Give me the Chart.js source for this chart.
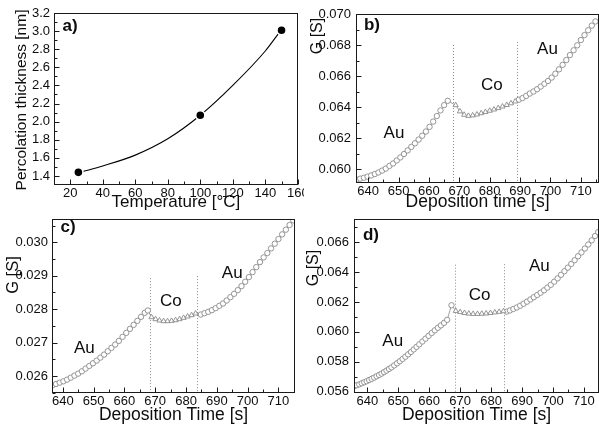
<!DOCTYPE html>
<html><head><meta charset="utf-8">
<script src="https://cdn.jsdelivr.net/npm/chart.js@4.4.0/dist/chart.umd.min.js"></script>
<style>
html,body{margin:0;padding:0;background:#fff;overflow:hidden;width:599px;height:427px;position:relative;}
canvas{position:absolute;}
</style></head><body>
<canvas id="ca" style="left:0;top:0" width="304" height="213"></canvas>
<canvas id="cb" style="left:304px;top:0" width="300" height="213"></canvas>
<canvas id="cc" style="left:0;top:213px" width="300" height="214"></canvas>
<canvas id="cd" style="left:300px;top:213px" width="304" height="214"></canvas>
<script>
// ---------- panel a ----------
const aTemperature = [25, 100, 150];
const aThickness = [1.44, 2.07, 3.01];
// fitted curve
const aFitTemperature = [27, 40, 60, 80, 100, 120, 140, 148];
const aFitThickness = [1.445, 1.51, 1.63, 1.81, 2.07, 2.40, 2.78, 2.97];
const aXTicks = [20, 40, 60, 80, 100, 120, 140, 160];
const aXMinor = [30, 50, 70, 90, 110, 130, 150];
const aYTicks = [1.4, 1.6, 1.8, 2.0, 2.2, 2.4, 2.6, 2.8, 3.0, 3.2];
const aYMinor = [1.5, 1.7, 1.9, 2.1, 2.3, 2.5, 2.7, 2.9, 3.1];

// ---------- panel b ----------
const bAu1Time = [636.2,637.4,638.6,639.8,641.0,642.2,643.4,644.6,645.8,647.0,648.2,649.4,650.6,651.8,653.0,654.2,655.4,656.6,657.8,659.0,660.2,661.4,662.6,663.8,665.0,666.2];
const bAu1G = [0.05932,0.05938,0.05944,0.05951,0.05959,0.05968,0.05978,0.05990,0.06003,0.06020,0.06036,0.06055,0.06075,0.06097,0.06120,0.06143,0.06166,0.06190,0.06215,0.06242,0.06272,0.06306,0.06342,0.06378,0.06412,0.06440];
const bCoTime = [668.8,670.2,671.6,673.0,674.4,675.8,677.2,678.6,680.0,681.4,682.8,684.2,685.6,687.0,688.4];
const bCoG = [0.06412,0.06372,0.06350,0.06343,0.06346,0.06352,0.06360,0.06368,0.06376,0.06384,0.06393,0.06403,0.06413,0.06424,0.06436];
const bAu2Time = [689.6,690.8,692.0,693.2,694.4,695.6,696.8,698.0,699.2,700.4,701.6,702.8,704.0,705.2,706.4,707.6,708.8,710.0,711.2,712.4,713.6,714.8];
const bAu2G = [0.06447,0.06458,0.06472,0.06487,0.06500,0.06515,0.06532,0.06550,0.06568,0.06590,0.06615,0.06643,0.06672,0.06703,0.06735,0.06766,0.06798,0.06832,0.06864,0.06895,0.06925,0.06952];
const bSwitchTimes = [668, 689];
const bYTicks = [0.060, 0.062, 0.064, 0.066, 0.068, 0.070];
const bYMinor = [0.061, 0.063, 0.065, 0.067, 0.069];

// ---------- panel c ----------
const cAu1Time = [636.6,637.8,639.0,640.2,641.4,642.6,643.8,645.0,646.2,647.4,648.6,649.8,651.0,652.2,653.4,654.6,655.8,657.0,658.2,659.4,660.6,661.8,663.0,664.2,665.4,666.6,667.6];
const cAu1G = [0.02572,0.02576,0.02580,0.02584,0.02589,0.02595,0.02601,0.02607,0.02614,0.02622,0.02630,0.02638,0.02646,0.02655,0.02664,0.02674,0.02684,0.02694,0.02705,0.02717,0.02729,0.02741,0.02753,0.02765,0.02777,0.02789,0.02796];
const cCoTime = [668.8,670.1,671.4,672.7,674.0,675.3,676.6,677.9,679.2,680.5,681.8,683.1];
const cCoG = [0.02776,0.02770,0.02766,0.02764,0.02764,0.02765,0.02767,0.02770,0.02774,0.02778,0.02782,0.02787];
const cAu2Time = [684.8,686.0,687.2,688.4,689.6,690.8,692.0,693.2,694.4,695.6,696.8,698.0,699.2,700.4,701.6,702.8,704.0,705.2,706.4,707.6,708.8,710.0,711.2,712.4,713.6,714.8];
const cAu2G = [0.02784,0.02788,0.02792,0.02797,0.02803,0.02810,0.02817,0.02826,0.02836,0.02846,0.02857,0.02869,0.02882,0.02896,0.02911,0.02926,0.02941,0.02955,0.02968,0.02982,0.02996,0.03010,0.03024,0.03038,0.03052,0.03066];
const cSwitchTimes = [668.3, 683.6];
const cYTicks = [0.026, 0.027, 0.028, 0.029, 0.030];
const cYMinor = [0.0255, 0.0265, 0.0275, 0.0285, 0.0295, 0.0305];

// ---------- panel d ----------
const dAu1Time = [635.8,636.6,637.4,638.2,639.0,639.8,640.6,641.4,642.2,643.0,643.8,644.6,645.4,646.2,647.0,647.8,648.7,649.6,650.5,651.4,652.3,653.2,654.1,655.0,655.9,656.8,657.8,658.8,659.8,660.8,661.8,662.8,663.8,664.8,665.8,667.2];
const dAu1G = [0.05636,0.05642,0.05648,0.05655,0.05662,0.05669,0.05677,0.05685,0.05693,0.05702,0.05711,0.05720,0.05730,0.05740,0.05751,0.05762,0.05775,0.05789,0.05803,0.05818,0.05833,0.05849,0.05865,0.05882,0.05899,0.05916,0.05935,0.05954,0.05973,0.05992,0.06010,0.06027,0.06043,0.06060,0.06080,0.06178];
const dCoTime = [668.6,670.0,671.4,672.8,674.2,675.6,677.0,678.4,679.8,681.2,682.6,684.0];
const dCoG = [0.06140,0.06132,0.06126,0.06122,0.06120,0.06120,0.06121,0.06123,0.06126,0.06130,0.06134,0.06138];
const dAu2Time = [685.0,686.1,687.2,688.3,689.4,690.5,691.6,692.7,693.8,694.9,696.0,697.1,698.2,699.3,700.4,701.5,702.6,703.7,704.8,705.9,707.0,708.1,709.2,710.3,711.4,712.5,713.6,714.6];
const dAu2G = [0.06135,0.06143,0.06153,0.06163,0.06175,0.06188,0.06202,0.06217,0.06232,0.06247,0.06262,0.06278,0.06296,0.06315,0.06336,0.06358,0.06382,0.06406,0.06430,0.06455,0.06480,0.06506,0.06532,0.06558,0.06585,0.06613,0.06642,0.06668];
const dSwitchTimes = [668.2, 684.2];
const dYTicks = [0.056, 0.058, 0.060, 0.062, 0.064, 0.066];
const dYMinor = [0.057, 0.059, 0.061, 0.063, 0.065, 0.067];

// shared time ticks
const timeTicks = [640, 650, 660, 670, 680, 690, 700, 710];
const timeMinor = [645, 655, 665, 675, 685, 695, 705, 715];

const FONT = "'Liberation Sans', Arial, Helvetica, sans-serif";
const INK = '#0d0d0d';
const MARK = '#8a8a8a';
const LINE = '#a0a0a0';
const TICKSIZE = 13;

function pts(ts, vs) { return ts.map((t, i) => ({x: t, y: vs[i]})); }

function framePlugin(o) {
  return {
    id: 'frame',
    beforeDatasetsDraw(chart) {
      const {ctx, chartArea: a, scales: {x, y}} = chart;
      ctx.save();
      ctx.strokeStyle = '#8c8c8c';
      ctx.lineWidth = 1;
      ctx.setLineDash([1, 2]);
      (o.switches || []).forEach(s => {
        const px = Math.round(x.getPixelForValue(s.t)) + 0.5;
        ctx.beginPath();
        ctx.moveTo(px, y.getPixelForValue(s.top));
        ctx.lineTo(px, a.bottom);
        ctx.stroke();
      });
      ctx.restore();
    },
    afterDraw(chart) {
      const {ctx, chartArea: a, scales: {x, y}} = chart;
      ctx.save();
      ctx.strokeStyle = '#1a1a1a';
      ctx.lineWidth = 1;
      const L = Math.round(a.left) + 0.5, R = Math.round(a.right) - 0.5;
      const T = Math.round(a.top) + 0.5, B = Math.round(a.bottom) - 0.5;
      ctx.strokeRect(L, T, R - L, B - T);
      ctx.beginPath();
      const tx = (v, len) => { const p = Math.round(x.getPixelForValue(v)) + 0.5; ctx.moveTo(p, B); ctx.lineTo(p, B - len); };
      const ty = (v, len) => { const p = Math.round(y.getPixelForValue(v)) + 0.5; ctx.moveTo(L, p); ctx.lineTo(L + len, p); };
      o.xTicks.forEach(v => tx(v, 5));
      o.xMinor.forEach(v => tx(v, 3));
      o.yTicks.forEach(v => ty(v, 5));
      o.yMinor.forEach(v => ty(v, 3));
      ctx.stroke();
      ctx.restore();
    }
  };
}

function textPlugin(o) {
  return {
    id: 'texts',
    afterDraw(chart) {
      const {ctx, scales: {x, y}} = chart;
      o.texts.forEach(it => {
        let px = it.x, py = it.y;
        if (it.at) { px = x.getPixelForValue(it.at[0]); py = y.getPixelForValue(it.at[1]); }
        ctx.save();
        ctx.font = it.font;
        ctx.fillStyle = INK;
        ctx.textAlign = 'center';
        ctx.textBaseline = 'middle';
        ctx.translate(px, py);
        if (it.rot) ctx.rotate(it.rot);
        ctx.fillText(it.text, 0, 0);
        ctx.restore();
      });
    }
  };
}

function panel(id, o) {
  const cv = document.getElementById(id);
  const W = cv.width, H = cv.height;
  new Chart(cv, {
    type: 'scatter',
    data: {datasets: o.datasets},
    options: {
      responsive: false,
      animation: false,
      events: [],
      layout: {padding: {left: 0, top: o.area.top, right: W - o.area.right, bottom: 0}},
      plugins: {legend: {display: false}, tooltip: {enabled: false}},
      scales: {
        x: {
          type: 'linear', position: 'bottom', min: o.xMin, max: o.xMax,
          grid: {display: false, drawTicks: false}, border: {display: false},
          ticks: {autoSkip: false, maxRotation: 0, padding: o.xPad, color: INK,
                  font: {family: FONT, size: TICKSIZE}, callback: v => String(v)},
          afterBuildTicks: s => { s.ticks = o.xTicks.map(v => ({value: v})); },
          afterFit: s => { s.height = H - o.area.bottom; s.paddingLeft = 0; s.paddingRight = 0; },
          title: {display: true, text: o.xTitle, color: INK,
                  font: {family: FONT, size: o.xTitleSize}, padding: {top: 0, bottom: o.xTitlePad}}
        },
        y: {
          type: 'linear', position: 'left', min: o.yMin, max: o.yMax,
          grid: {display: false, drawTicks: false}, border: {display: false},
          ticks: {autoSkip: false, padding: o.yPad, color: INK,
                  font: {family: FONT, size: TICKSIZE}, callback: v => v.toFixed(o.yDec)},
          afterBuildTicks: s => { s.ticks = o.yTicks.map(v => ({value: v})); },
          afterFit: s => { s.width = o.area.left; s.paddingTop = 0; s.paddingBottom = 0; }
        }
      }
    },
    plugins: [framePlugin(o), textPlugin(o)]
  });
}

function deposition(segs) {
  const ds = [];
  segs.forEach(s => ds.push({
    data: pts(s[0], s[1]), showLine: false, pointStyle: s[2],
    pointRadius: s[2] === 'triangle' ? 3 : 2.7, pointBorderWidth: 0.9,
    pointBorderColor: MARK, pointBackgroundColor: '#fff', order: 1
  }));
  const all = [];
  segs.forEach(s => all.push(...pts(s[0], s[1])));
  ds.push({data: all, showLine: true, pointRadius: 0, borderColor: LINE, borderWidth: 1, order: 2});
  return ds;
}

const bold = "bold 17px " + FONT;
const mid = "17px " + FONT;
const yt = -Math.PI / 2;

// panel a
panel('ca', {
  area: {left: 54, top: 13, right: 303, bottom: 185},
  xMin: 10, xMax: 160, yMin: 1.3, yMax: 3.2, yDec: 1, xPad: 1, yPad: 4,
  xTicks: aXTicks, xMinor: aXMinor, yTicks: aYTicks, yMinor: aYMinor,
  xTitle: 'Temperature [°C]', xTitleSize: 17, xTitlePad: 0,
  datasets: [
    {data: pts(aTemperature, aThickness), showLine: false, order: 1,
     pointRadius: 4.6, pointBackgroundColor: '#000', pointBorderColor: '#fff', pointBorderWidth: 1.6},
    {data: pts(aFitTemperature, aFitThickness), showLine: true, cubicInterpolationMode: 'monotone',
     pointRadius: 0, borderColor: '#000', borderWidth: 1.1, order: 2}
  ],
  texts: [
    {text: 'a)', x: 70, y: 26, font: bold},
    {text: 'Percolation thickness [nm]', x: 22, y: 100, rot: yt, font: "15.5px " + FONT}
  ]
});

// panel b
panel('cb', {
  area: {left: 52, top: 14, right: 296, bottom: 183},
  xMin: 636, xMax: 716, yMin: 0.0591, yMax: 0.070, yDec: 3, xPad: 1, yPad: 5,
  xTicks: timeTicks, xMinor: timeMinor, yTicks: bYTicks, yMinor: bYMinor,
  xTitle: 'Deposition time [s]', xTitleSize: 17.5, xTitlePad: 0,
  switches: [{t: bSwitchTimes[0], top: 0.0680}, {t: bSwitchTimes[1], top: 0.0682}],
  datasets: deposition([[bAu1Time, bAu1G, 'circle'], [bCoTime, bCoG, 'triangle'], [bAu2Time, bAu2G, 'circle']]),
  texts: [
    {text: 'b)', x: 68, y: 25, font: bold},
    {text: 'G [S]', x: 14, y: 36, rot: yt, font: "16px " + FONT},
    {text: 'Au', at: [648.5, 0.06232], font: mid},
    {text: 'Co', at: [680.7, 0.06542], font: mid},
    {text: 'Au', at: [699, 0.06774], font: mid}
  ]
});

// panel c
panel('cc', {
  area: {left: 52, top: 6, right: 299, bottom: 180},
  xMin: 636.5, xMax: 715.4, yMin: 0.02549, yMax: 0.0307, yDec: 3, xPad: 1, yPad: 4,
  xTicks: timeTicks, xMinor: timeMinor, yTicks: cYTicks, yMinor: cYMinor,
  xTitle: 'Deposition Time [s]', xTitleSize: 17.5, xTitlePad: 1,
  switches: [{t: cSwitchTimes[0], top: 0.02893}, {t: cSwitchTimes[1], top: 0.02899}],
  datasets: deposition([[cAu1Time, cAu1G, 'circle'], [cCoTime, cCoG, 'triangle'], [cAu2Time, cAu2G, 'circle']]),
  texts: [
    {text: 'c)', x: 68, y: 14, font: bold},
    {text: 'G [S]', x: 13, y: 62, rot: yt, font: "16.5px " + FONT},
    {text: 'Au', at: [647, 0.02684], font: mid},
    {text: 'Co', at: [675.1, 0.02824], font: mid},
    {text: 'Au', at: [695, 0.02908], font: mid}
  ]
});

// panel d
panel('cd', {
  area: {left: 54, top: 6, right: 300, bottom: 180},
  xMin: 635.7, xMax: 714.9, yMin: 0.0559, yMax: 0.06756, yDec: 3, xPad: 1, yPad: 5,
  xTicks: timeTicks, xMinor: timeMinor.slice(0, 7), yTicks: dYTicks, yMinor: dYMinor,
  xTitle: 'Deposition Time [s]', xTitleSize: 17.5, xTitlePad: 1,
  switches: [{t: dSwitchTimes[0], top: 0.0645}, {t: dSwitchTimes[1], top: 0.06453}],
  datasets: deposition([[dAu1Time, dAu1G, 'circle'], [dCoTime, dCoG, 'triangle'], [dAu2Time, dAu2G, 'circle']]),
  texts: [
    {text: 'd)', x: 71, y: 22, font: bold},
    {text: 'G [S]', x: 14, y: 55, rot: yt, font: "16px " + FONT},
    {text: 'Au', at: [648.2, 0.05935], font: mid},
    {text: 'Co', at: [676.3, 0.06247], font: mid},
    {text: 'Au', at: [695.6, 0.06437], font: mid}
  ]
});
</script>
</body></html>
